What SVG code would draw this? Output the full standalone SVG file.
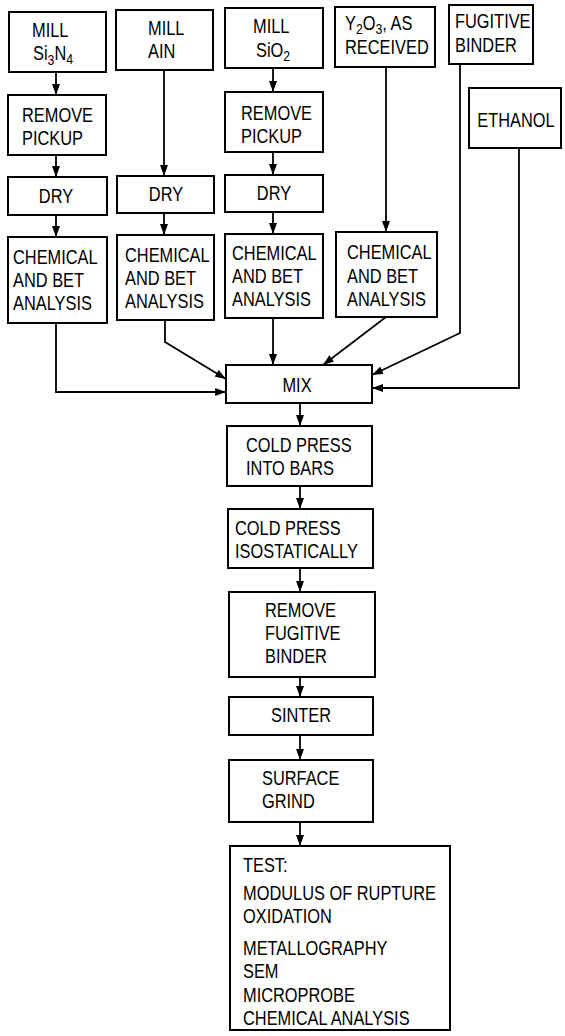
<svg xmlns="http://www.w3.org/2000/svg" width="565" height="1036" viewBox="0 0 565 1036">
<style>
rect{fill:#fff;stroke:#000;stroke-width:2}
text{font-family:"Liberation Sans",Arial,sans-serif;font-size:20px;fill:#000}
.c{text-anchor:middle}
.sub{font-size:15px}
#connectors path{fill:none;stroke:#000;stroke-width:1.8;marker-end:url(#ah)}
</style>
<defs>
<marker id="ah" markerUnits="userSpaceOnUse" markerWidth="11" markerHeight="8" refX="11" refY="4" orient="auto">
<path d="M0,0 L11,4 L0,8 z" fill="#000"/>
</marker>
</defs>
<rect width="565" height="1036" style="stroke:none"/>
<g id="connectors">
<path d="M56,72 V95"/>
<path d="M56,155 V177"/>
<path d="M56,215 V237"/>
<path d="M164,70 V176"/>
<path d="M164,213 V235"/>
<path d="M273,68 V92"/>
<path d="M273,152 V175"/>
<path d="M273,212 V234"/>
<path d="M386,67 V232"/>
<path d="M56,323 V392 H226"/>
<path d="M165,320 V342 L226,379"/>
<path d="M273,318 V365"/>
<path d="M386,317 L323,365"/>
<path d="M460,64 V333 L372,375"/>
<path d="M519,148 V388 H372"/>
<path d="M300,403 V426"/>
<path d="M300,486 V509"/>
<path d="M300,568 V592"/>
<path d="M300,677 V697"/>
<path d="M300,735 V760"/>
<path d="M300,822 V846"/>
</g>
<g id="mill-si3n4"><rect x="9" y="12" width="97" height="60"/><text transform="translate(32,37) scale(0.82,1)">MILL</text><text transform="translate(33,60) scale(0.82,1)">Si<tspan class="sub" dy="5">3</tspan><tspan dy="-5">N</tspan><tspan class="sub" dy="4">4</tspan></text></g>
<g id="mill-aln"><rect x="116" y="10" width="97" height="60"/><text transform="translate(148,35) scale(0.82,1)">MILL</text><text transform="translate(148,58) scale(0.82,1)">AIN</text></g>
<g id="mill-sio2"><rect x="225" y="8" width="98" height="60"/><text transform="translate(253,33) scale(0.82,1)">MILL</text><text transform="translate(256,57) scale(0.82,1)">SiO<tspan class="sub" dy="4">2</tspan></text></g>
<g id="y2o3"><rect x="335" y="7" width="100" height="60"/><text transform="translate(345,30) scale(0.82,1)">Y<tspan class="sub" dy="4">2</tspan><tspan dy="-4">O</tspan><tspan class="sub" dy="4">3</tspan><tspan dy="-4">, AS</tspan></text><text transform="translate(345,54) scale(0.82,1)">RECEIVED</text></g>
<g id="fugitive-binder"><rect x="449" y="5" width="84" height="59"/><text transform="translate(455,28) scale(0.82,1)">FUGITIVE</text><text transform="translate(455,52) scale(0.82,1)">BINDER</text></g>
<g id="ethanol"><rect x="469" y="88" width="92" height="60"/><text class="c" transform="translate(516,127) scale(0.82,1)">ETHANOL</text></g>
<g id="remove-pickup-1"><rect x="8" y="95" width="98" height="60"/><text transform="translate(22,122) scale(0.82,1)">REMOVE</text><text transform="translate(22,145) scale(0.82,1)">PICKUP</text></g>
<g id="remove-pickup-3"><rect x="225" y="92" width="98" height="60"/><text transform="translate(241,120) scale(0.82,1)">REMOVE</text><text transform="translate(241,143) scale(0.82,1)">PICKUP</text></g>
<g id="dry-1"><rect x="8" y="177" width="99" height="38"/><text class="c" transform="translate(56,203) scale(0.82,1)">DRY</text></g>
<g id="dry-2"><rect x="117" y="176" width="97" height="37"/><text class="c" transform="translate(166,201) scale(0.82,1)">DRY</text></g>
<g id="dry-3"><rect x="225" y="175" width="98" height="37"/><text class="c" transform="translate(274,200) scale(0.82,1)">DRY</text></g>
<g id="chem-1"><rect x="8" y="237" width="99" height="86"/><text transform="translate(13,264) scale(0.82,1)">CHEMICAL</text><text transform="translate(13,287) scale(0.82,1)">AND BET</text><text transform="translate(13,310) scale(0.82,1)">ANALYSIS</text></g>
<g id="chem-2"><rect x="117" y="235" width="97" height="85"/><text transform="translate(125,262) scale(0.82,1)">CHEMICAL</text><text transform="translate(125,285) scale(0.82,1)">AND BET</text><text transform="translate(125,308) scale(0.82,1)">ANALYSIS</text></g>
<g id="chem-3"><rect x="225" y="234" width="98" height="84"/><text transform="translate(232,260) scale(0.82,1)">CHEMICAL</text><text transform="translate(232,283) scale(0.82,1)">AND BET</text><text transform="translate(232,306) scale(0.82,1)">ANALYSIS</text></g>
<g id="chem-4"><rect x="336" y="232" width="101" height="85"/><text transform="translate(347,259) scale(0.82,1)">CHEMICAL</text><text transform="translate(347,283) scale(0.82,1)">AND BET</text><text transform="translate(347,306) scale(0.82,1)">ANALYSIS</text></g>
<g id="mix"><rect x="226" y="365" width="146" height="38"/><text class="c" transform="translate(297,392) scale(0.82,1)">MIX</text></g>
<g id="cold-press-bars"><rect x="227" y="426" width="145" height="60"/><text transform="translate(246,452) scale(0.82,1)">COLD PRESS</text><text transform="translate(246,475) scale(0.82,1)">INTO BARS</text></g>
<g id="cold-press-iso"><rect x="228" y="509" width="145" height="59"/><text transform="translate(235,535) scale(0.82,1)">COLD PRESS</text><text transform="translate(235,558) scale(0.82,1)">ISOSTATICALLY</text></g>
<g id="remove-binder"><rect x="229" y="592" width="146" height="85"/><text transform="translate(265,617) scale(0.82,1)">REMOVE</text><text transform="translate(265,640) scale(0.82,1)">FUGITIVE</text><text transform="translate(265,663) scale(0.82,1)">BINDER</text></g>
<g id="sinter"><rect x="229" y="697" width="144" height="38"/><text class="c" transform="translate(301,722) scale(0.82,1)">SINTER</text></g>
<g id="surface-grind"><rect x="229" y="760" width="144" height="62"/><text transform="translate(262,785) scale(0.82,1)">SURFACE</text><text transform="translate(262,808) scale(0.82,1)">GRIND</text></g>
<g id="test"><rect x="230" y="846" width="220" height="184"/><text transform="translate(243,872) scale(0.82,1)">TEST:</text><text transform="translate(243,900) scale(0.82,1)">MODULUS OF RUPTURE</text><text transform="translate(243,923) scale(0.82,1)">OXIDATION</text><text transform="translate(243,955) scale(0.82,1)">METALLOGRAPHY</text><text transform="translate(243,978) scale(0.82,1)">SEM</text><text transform="translate(243,1002) scale(0.82,1)">MICROPROBE</text><text transform="translate(243,1025) scale(0.82,1)">CHEMICAL ANALYSIS</text></g>
</svg>
